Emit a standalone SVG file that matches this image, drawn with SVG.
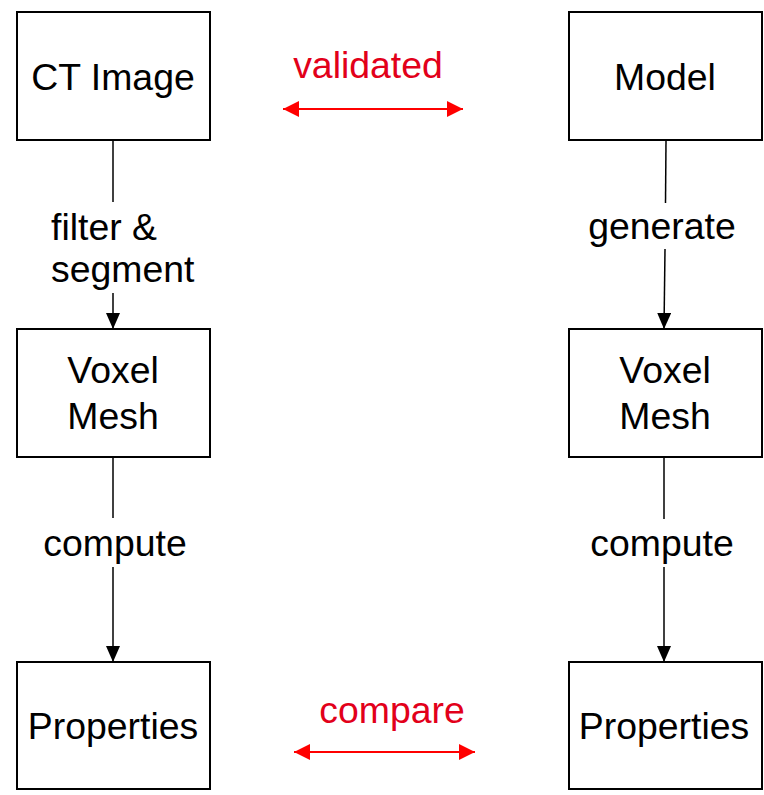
<svg xmlns="http://www.w3.org/2000/svg" width="764" height="795" viewBox="0 0 764 795">
  <style>
    .box { fill: #ffffff; stroke: #000000; stroke-width: 2; }
    .label { font-family: "Liberation Sans", Arial, sans-serif; font-size: 37.4px; fill: #000000; }
    .mid { text-anchor: middle; }
    .red { fill: #e2001a; }
    .edge { fill: none; stroke: #000000; stroke-width: 1.5; }
    .link { fill: none; stroke: #ff0000; stroke-width: 2; }
  </style>
  <defs>
    <marker id="tip" viewBox="0 0 16 14" refX="16" refY="7" markerWidth="16" markerHeight="14" markerUnits="userSpaceOnUse" orient="auto">
      <path d="M0,0 L16,7 L0,14 Z" fill="#000000"/>
    </marker>
    <marker id="redtip" viewBox="0 0 16 16" refX="16" refY="8" markerWidth="16" markerHeight="16" markerUnits="userSpaceOnUse" orient="auto-start-reverse">
      <path d="M0,0 L16,8 L0,16 Z" fill="#ff0000"/>
    </marker>
  </defs>
  <rect width="764" height="795" fill="#ffffff"/>

  <!-- left column -->
  <g id="ct-image">
    <rect class="box" x="17" y="12" width="193" height="128"/>
    <text class="label mid" x="113" y="90">CT Image</text>
  </g>
  <g id="voxel-mesh-left">
    <rect class="box" x="17" y="329" width="193" height="128"/>
    <text class="label mid" x="113" y="383">Voxel</text>
    <text class="label mid" x="113" y="429">Mesh</text>
  </g>
  <g id="properties-left">
    <rect class="box" x="17" y="662" width="193" height="127"/>
    <text class="label mid" x="113" y="739">Properties</text>
  </g>

  <!-- right column -->
  <g id="model">
    <rect class="box" x="569" y="12" width="193" height="128"/>
    <text class="label mid" x="665" y="90">Model</text>
  </g>
  <g id="voxel-mesh-right">
    <rect class="box" x="569" y="329" width="193" height="128"/>
    <text class="label mid" x="665" y="383">Voxel</text>
    <text class="label mid" x="665" y="429">Mesh</text>
  </g>
  <g id="properties-right">
    <rect class="box" x="569" y="662" width="193" height="127"/>
    <text class="label mid" x="664" y="739">Properties</text>
  </g>

  <!-- connectors -->
  <g id="connectors">
    <line class="edge" x1="113" y1="141" x2="113" y2="202"/>
    <line class="edge" x1="113" y1="293" x2="113" y2="329" marker-end="url(#tip)"/>
    <text class="label" x="51" y="240">filter &amp;</text>
    <text class="label" x="51" y="282">segment</text>

    <line class="edge" x1="666" y1="141" x2="665.5" y2="203"/>
    <line class="edge" x1="665" y1="249" x2="664" y2="329" marker-end="url(#tip)"/>
    <text class="label mid" x="662" y="239">generate</text>

    <line class="edge" x1="113" y1="458" x2="113" y2="518"/>
    <line class="edge" x1="113" y1="567" x2="113" y2="662" marker-end="url(#tip)"/>
    <text class="label mid" x="115" y="556">compute</text>

    <line class="edge" x1="664" y1="458" x2="664" y2="519"/>
    <line class="edge" x1="664" y1="567" x2="664" y2="662" marker-end="url(#tip)"/>
    <text class="label mid" x="662" y="556">compute</text>

    <line class="link" x1="283" y1="109" x2="463" y2="109" marker-start="url(#redtip)" marker-end="url(#redtip)"/>
    <text class="label mid red" x="368" y="78">validated</text>

    <line class="link" x1="294" y1="752" x2="475" y2="752" marker-start="url(#redtip)" marker-end="url(#redtip)"/>
    <text class="label mid red" x="392" y="723">compare</text>
  </g>
</svg>
